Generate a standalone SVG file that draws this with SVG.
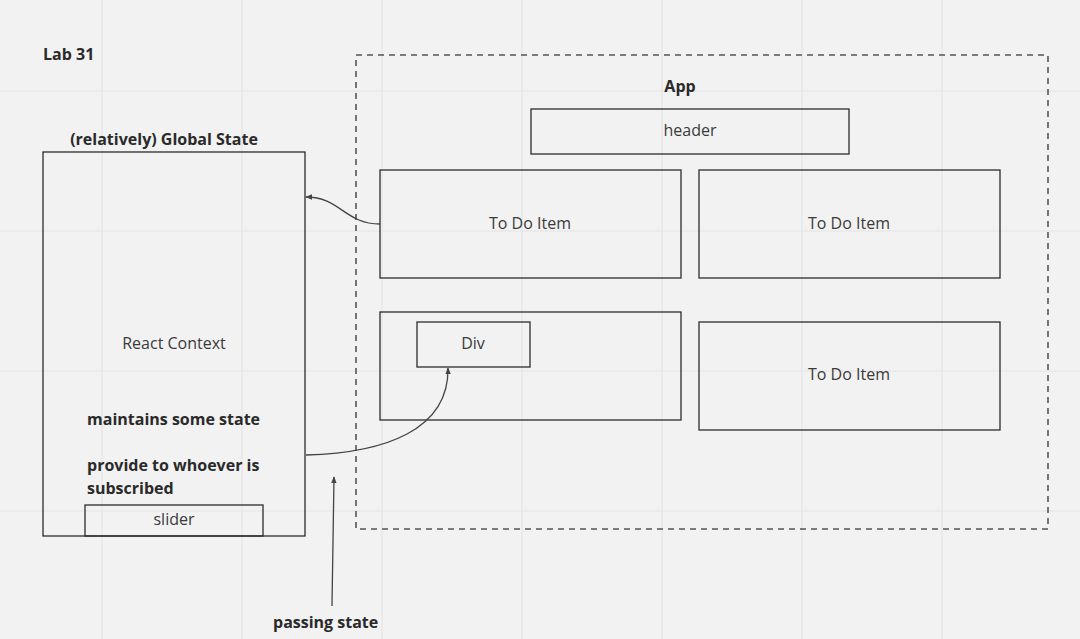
<svg xmlns="http://www.w3.org/2000/svg" width="1080" height="639" viewBox="0 0 1080 639">
<defs>
<marker id="arr" viewBox="0 0 10 10" refX="9" refY="5" markerWidth="7" markerHeight="7" markerUnits="userSpaceOnUse" orient="auto">
<path d="M0,1 L10,5 L0,9 Z" fill="#444"/>
</marker>
</defs>
<style>
.grid{stroke:#e4e4e4;stroke-width:1.2}
.box{fill:none;stroke:#2b2b2b;stroke-width:1.3}
.dash{fill:none;stroke:#555;stroke-width:1.6;stroke-dasharray:6 5}
.lbl{font-family:"Open Sans","Noto Sans",sans-serif;font-size:16px;fill:#3a3a3a}
.b{font-family:"Open Sans","Noto Sans",sans-serif;font-size:16px;font-weight:bold;fill:#2a2a2a}
.c{text-anchor:middle}
.con{fill:none;stroke:#444;stroke-width:1.3}
</style>
<rect width="1080" height="639" fill="#f2f2f2"/>
<g id="grid">
<path class="grid" d="M102,0V639M242,0V639M382,0V639M522,0V639M662,0V639M802,0V639M942,0V639M0,91H1080M0,231H1080M0,371H1080M0,511H1080"/>
</g>
<text class="b" x="43" y="60">Lab 31</text>
<g id="globalState">
<rect class="box" x="43" y="152" width="262" height="384"/>
<text class="b c" x="164" y="145">(relatively) Global State</text>
<text class="lbl c" x="174" y="349">React Context</text>
<text class="b" x="87" y="425">maintains some state</text>
<text class="b" x="87" y="471">provide to whoever is</text>
<text class="b" x="87" y="494">subscribed</text>
</g>
<g id="slider">
<rect class="box" x="85" y="505" width="178" height="31"/>
<text class="lbl c" x="174" y="525">slider</text>
</g>
<g id="app">
<rect class="dash" x="356" y="55" width="692" height="474"/>
<text class="b c" x="680" y="92">App</text>
</g>
<g id="header">
<rect class="box" x="531" y="109" width="318" height="45"/>
<text class="lbl c" x="690" y="136">header</text>
</g>
<g id="todo1">
<rect class="box" x="380" y="170" width="301" height="108"/>
<text class="lbl c" x="530" y="229">To Do Item</text>
</g>
<g id="todo2">
<rect class="box" x="699" y="170" width="301" height="108"/>
<text class="lbl c" x="849" y="229">To Do Item</text>
</g>
<g id="box3">
<rect class="box" x="380" y="312" width="301" height="108"/>
</g>
<g id="div">
<rect class="box" x="417" y="322" width="113" height="45"/>
<text class="lbl c" x="473" y="349">Div</text>
</g>
<g id="todo4">
<rect class="box" x="699" y="322" width="301" height="108"/>
<text class="lbl c" x="849" y="380">To Do Item</text>
</g>
<g id="passing">
<text class="b" x="273" y="628">passing state</text>
</g>
<g id="connectors">
<path class="con" d="M380,224 C345,224 340,197 306,197" marker-end="url(#arr)"/>
<path class="con" d="M306,455 C385,453 449,430 448,368" marker-end="url(#arr)"/>
<path class="con" d="M332,606 L334,477" marker-end="url(#arr)"/>
</g>
</svg>
